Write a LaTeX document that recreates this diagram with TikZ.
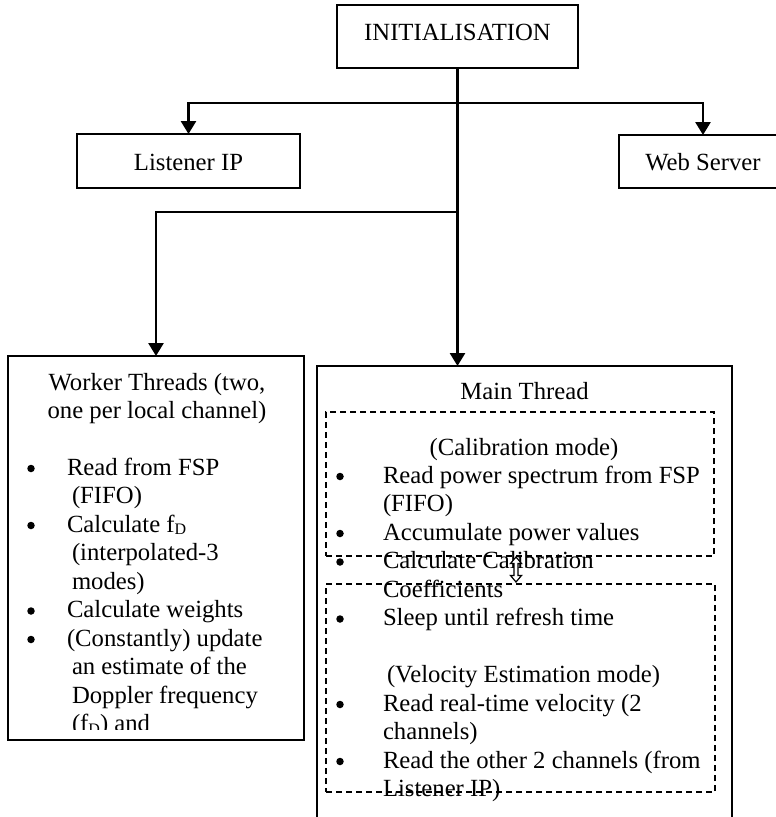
\documentclass[tikz,border=0pt]{standalone}
\usepackage{fontspec}
\setmainfont{Liberation Serif}
\usetikzlibrary{arrows.meta}
\newcommand{\fD}{f\raisebox{-0.22ex}{\fontsize{16}{16}\selectfont D}}
\begin{document}
\begin{tikzpicture}[x=1pt,y=-1pt,
  box/.style={draw,line width=1.6pt,inner sep=0pt,outer sep=0pt,rectangle},
  dbox/.style={draw,dash pattern=on 6pt off 4pt,line width=1.5pt,inner sep=0pt,outer sep=0pt,rectangle},
  conn/.style={line width=2.7pt},
  arr/.style={conn,-{Triangle[width=15pt,length=13pt]}},
  txt/.style={inner sep=0pt,outer sep=0pt,font=\fontsize{24.7}{28.5}\selectfont},
  lt/.style={txt,anchor=base west},
  ct/.style={txt,anchor=base},
  bul/.style={circle,fill=black,inner sep=0pt,minimum size=7.5pt},
]
\useasboundingbox (0,0) rectangle (776,817);
\fill[white] (0,0) rectangle (776,817);

% boxes
\node[box,minimum width=241pt,minimum height=63pt] (init) at (457.5,36.5) {};
\node[box,minimum width=223pt,minimum height=54pt] (listener) at (188.5,161) {};
\node[box,minimum width=168pt,minimum height=53pt] (web) at (703,161.5) {};
\node[box,minimum width=296pt,minimum height=384pt] (worker) at (156,548) {};
\node[box,minimum width=415pt,minimum height=474pt] (main) at (524.5,603) {};

% texts of the top boxes
\node[ct] (tinit) at (457.5,40) {INITIALISATION};
\node[ct] (tlist) at (188.5,170) {Listener IP};
\node[ct] (tweb) at (703,170) {Web Server};

% connectors
\coordinate (j1) at (457,103);
\coordinate (j2) at (457,212);
\draw[arr] (j1) -| (listener.north);
\draw[arr] (j1) -| (web.north);
\draw[arr] (j2) -| (worker.north);
\draw[arr] (init.south) -- (init.south |- main.north);

% worker thread text
\node[ct] (w1) at (157,390) {Worker Threads (two,};
\node[ct] (w2) at (157,418.5) {one per local channel)};
\node[bul] (wb1) at (31,468.5) {};
\node[lt] (w3) at (67,475) {Read from FSP};
\node[lt] (w4) at (72,503.5) {(FIFO)};
\node[bul] (wb2) at (31,525.5) {};
\node[lt] (w5) at (67,532) {Calculate \fD};
\node[lt] (w6) at (72,560.5) {(interpolated-3};
\node[lt] (w7) at (72,589) {modes)};
\node[bul] (wb3) at (31,611) {};
\node[lt] (w8) at (67,617.5) {Calculate weights};
\node[bul] (wb4) at (31,639.5) {};
\node[lt] (w9) at (67,646) {(Constantly) update};
\node[lt] (w10) at (72,674.5) {an estimate of the};
\node[lt] (w11) at (72,703) {Doppler frequency};
\begin{scope}
\clip (8,700) rectangle (304,729);
\node[lt] (w12) at (72,731.5) {(\fD) and};
\end{scope}

% main thread text
\node[ct] (m0) at (524.5,399) {Main Thread};
\node[ct] (m1) at (524,455) {(Calibration mode)};
\node[bul] (mb1) at (340,476.5) {};
\node[lt] (m2) at (383,483) {Read power spectrum from FSP};
\node[lt] (m3) at (383,511.5) {(FIFO)};
\node[bul] (mb2) at (340,533.5) {};
\node[lt] (m4) at (383,540) {Accumulate power values};
\node[bul] (mb3) at (340,562) {};
\node[lt] (m5) at (383,568.5) {Calculate Calibration};
\node[lt] (m6) at (383,597) {Coefficients};
\node[bul] (mb4) at (340,619) {};
\node[lt] (m7) at (383,625.5) {Sleep until refresh time};
\node[lt] (m8) at (387,682.5) {(Velocity Estimation mode)};
\node[bul] (mb5) at (340,704.5) {};
\node[lt] (m9) at (383,711) {Read real-time velocity (2};
\node[lt] (m10) at (383,739.5) {channels)};
\node[bul] (mb6) at (340,761.5) {};
\node[lt] (m11) at (383,768) {Read the other 2 channels (from};
\node[lt] (m12) at (383,796.5) {Listener IP)};

% dashed mode boxes
\node[dbox,minimum width=388pt,minimum height=144pt] (cal) at (520,484) {};
\node[dbox,minimum width=389pt,minimum height=208pt] (vel) at (520.5,688) {};

% hollow double arrow between the modes
\draw[line width=1.2pt,fill=white,line join=miter]
  (516,557) -- (521.5,563.5) -- (518,563.5) -- (518,575.5) -- (521.5,575.5)
  -- (516,582) -- (510.5,575.5) -- (514,575.5) -- (514,563.5) -- (510.5,563.5) -- cycle;
\end{tikzpicture}
\end{document}
